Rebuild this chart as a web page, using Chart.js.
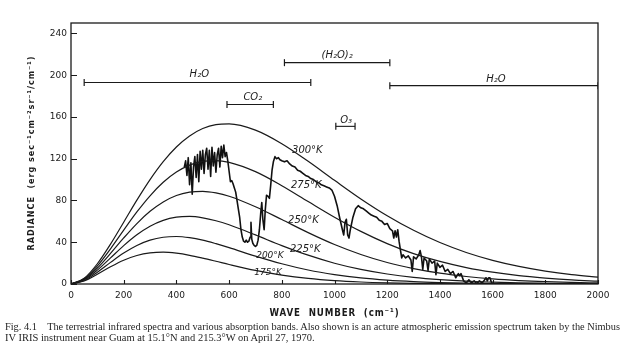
<!DOCTYPE html>
<html>
<head>
<meta charset="utf-8">
<script src="https://cdn.jsdelivr.net/npm/chart.js@4.4.1/dist/chart.umd.min.js"></script>
<style>
html,body{margin:0;padding:0;background:#fff;}
#wrap{position:relative;width:624px;height:360px;overflow:hidden;background:#fff;}
#c{position:absolute;left:0;top:0;}
.cap{position:absolute;left:5px;white-space:nowrap;font-family:"Liberation Serif","DejaVu Serif",serif;font-size:9.5px;line-height:10px;color:#1e1e1e;transform-origin:0 0;}
</style>
</head>
<body>
<div id="wrap">
<canvas id="c" width="624" height="360"></canvas>
<div class="cap" data-w="615" style="top:322px">Fig. 4.1&nbsp;&nbsp;&nbsp;&nbsp;The terrestrial infrared spectra and various absorption bands. Also shown is an acture atmospheric emission spectrum taken by the Nimbus</div>
<div class="cap" data-w="310" style="top:333px">IV IRIS instrument near Guam at 15.1°N and 215.3°W on April 27, 1970.</div>
</div>
<script>
// ---- data ----
const waveGrid = [0,50,100,150,200,250,300,350,400,450,500,550,600,700,800,900,1000,1100,1200,1300,1400,1500,1600,1700,1800,1900,2000];
const radiance300K = [0,5.5,19.4,38.2,59.2,80.3,100.0,117.2,131.2,141.8,148.9,152.7,153.4,147.4,134.4,117.5,99.3,81.5,65.4,51.4,39.7,30.2,22.7,16.9,12.4,9.0,6.5];
const radiance275K = [0,5.0,17.3,33.7,51.6,69.0,84.5,97.4,107.2,113.9,117.4,118.2,116.5,107.6,94.2,79.0,64.0,50.4,38.7,29.1,21.6,15.7,11.3,8.0,5.7,3.9,2.7];
const radiance250K = [0,4.5,15.3,29.3,44.1,57.9,69.6,78.6,84.8,88.0,88.8,87.3,84.1,74.0,61.7,49.2,37.8,28.3,20.6,14.8,10.4,7.2,4.9,3.3,2.2,1.5,1.0];
const radiance225K = [0,4.0,13.3,25.0,36.8,47.2,55.4,61.0,64.0,64.7,63.4,60.6,56.7,47.0,36.8,27.6,19.9,14.0,9.6,6.4,4.2,2.7,1.8,1.1,0.7,0.4,0.3];
const radiance200K = [0,3.4,11.3,20.7,29.6,36.9,42.0,44.8,45.5,44.4,42.0,38.6,34.8,26.7,19.4,13.4,9.0,5.8,3.7,2.3,1.4,0.8,0.5,0.3,0.2,0.1,0.05];
const radiance175K = [0,2.9,9.3,16.5,22.8,27.3,29.8,30.5,29.5,27.5,24.8,21.8,18.7,13.0,8.5,5.3,3.2,1.9,1.1,0.6,0.3,0.2,0.1,0.05,0.03,0.02,0.01];
const temperatures = [300,275,250,225,200,175];

const spectrumWave = [430,435,440,445,450,455,460,465,470,475,480,485,490,495,500,505,510,515,520,525,530,535,540,545,550,555,560,565,570,575,580,585,590,595,600,605,610,615,620,625,630,635,640,645,650,655,660,665,670,675,680,683,686,690,695,700,705,710,715,720,724,728,733,737,742,748,753,758,763,768,774,780,787,793,800,810,820,830,840,850,860,870,880,890,900,910,920,930,940,950,960,970,980,990,1000,1010,1020,1030,1035,1040,1045,1050,1055,1060,1070,1080,1090,1100,1110,1120,1130,1140,1150,1160,1170,1180,1190,1200,1210,1220,1225,1230,1235,1240,1245,1250,1255,1260,1270,1280,1290,1295,1300,1310,1320,1325,1330,1335,1340,1350,1355,1360,1370,1380,1385,1390,1400,1410,1420,1430,1440,1450,1460,1470,1475,1480,1490,1500,1510,1520,1530,1540,1550,1560,1570,1575,1580,1585,1590,1595,1600];
const spectrumRadiance = [112,118,104,121,95,116,86,112,122,102,124,98,127,110,128,106,124,130,110,128,103,131,113,126,107,124,130,112,132,121,133,122,126,118,108,98,99,96,92,88,80,72,64,52,45,41,40,42,40,41,45,59,43,39,37,36,37,42,52,68,78,62,52,70,85,84,82,95,109,117,122,120,121,119,118,117,118,115,113,112,109,108,106,104,103,101,100,98,97,95,94,93,92,90,84,75,63,52,47,59,62,47,44,52,64,72,75,73,72,70,68,66,65,64,61,60,57,58,53,51,44,51,45,52,41,33,25,28,25,27,23,12,26,24,28,32,26,14,25,22,13,24,20,22,9,20,16,18,12,14,10,12,6,10,8,10,3,1,4,1,3,0.5,3,1,4,6,3,6,6,2,0];

const bandNames = ['H₂O','(H₂O)₂','H₂O','CO₂','O₃'];
const bandStart = [50,810,1210,592,1005];
const bandEnd   = [910,1210,2000,768,1078];
const bandLevel = [193,212,190,172,151];

const xTickValues = [0,200,400,600,800,1000,1200,1400,1600,1800,2000];
const yTickValues = [0,40,80,120,160,200,240];

// ---- annotation layout (data coordinates) ----
const bandLabelAt = [[487,201],[1010,219],[1613,196],[690,179],[1044,157]];
const curveLabelAt = [[897,128],[893,94],[882,61],[889,33],[755,27],[748,11]];
const curveLabelFont = ['italic 10px "DejaVu Sans"','italic 10px "DejaVu Sans"','italic 10px "DejaVu Sans"','italic 10px "DejaVu Sans"','italic 9px "DejaVu Sans"','italic 9px "DejaVu Sans"'];

const INK = '#1a1a1a';
const planckSeries = [radiance300K,radiance275K,radiance250K,radiance225K,radiance200K,radiance175K];

const datasets = [];
planckSeries.forEach((arr,k)=>{
  datasets.push({
    label: temperatures[k]+'°K',
    data: waveGrid.map((x,i)=>({x:x,y:arr[i]})),
    borderColor: INK, borderWidth: 1.2, pointRadius: 0,
    cubicInterpolationMode: 'monotone', fill: false
  });
});
datasets.push({
  label: 'spectrum',
  data: spectrumWave.map((x,i)=>({x:x,y:spectrumRadiance[i]})),
  borderColor: '#111', borderWidth: 1.6, pointRadius: 0, tension: 0,
  borderJoinStyle: 'round', fill: false
});
bandNames.forEach((n,k)=>{
  datasets.push({
    label: n,
    data: [{x:bandStart[k],y:bandLevel[k]},{x:bandEnd[k],y:bandLevel[k]}],
    borderColor: INK, borderWidth: 1.1,
    pointStyle: 'line', pointRotation: 90, pointRadius: 3.5,
    pointBorderColor: INK, pointBorderWidth: 1.2, pointBackgroundColor: INK
  });
});

function fitText(ctx, text, cx, cy, target, font, spacing, rotate){
  ctx.save();
  ctx.font = font;
  ctx.letterSpacing = spacing;
  const w = ctx.measureText(text).width;
  ctx.translate(cx, cy);
  if (rotate) ctx.rotate(-Math.PI/2);
  ctx.scale(target / w, 1);
  ctx.textAlign = 'center';
  ctx.textBaseline = 'middle';
  ctx.fillStyle = INK;
  ctx.fillText(text, 0, 0);
  ctx.restore();
}

const decor = {
  id: 'decor',
  afterDatasetsDraw(chart){
    const ctx = chart.ctx, xs = chart.scales.x, ys = chart.scales.y, a = chart.chartArea;
    ctx.save();
    ctx.strokeStyle = INK; ctx.lineWidth = 1.3;
    ctx.strokeRect(a.left, a.top, a.right - a.left, a.bottom - a.top);
    ctx.lineWidth = 1.1;
    ctx.beginPath();
    xTickValues.forEach(v=>{ const p = Math.round(xs.getPixelForValue(v))+0.5; ctx.moveTo(p, a.bottom); ctx.lineTo(p, a.bottom-4); });
    yTickValues.forEach(v=>{ const p = Math.round(ys.getPixelForValue(v))+0.5; ctx.moveTo(a.left, p); ctx.lineTo(a.left+6, p); });
    ctx.stroke();
    ctx.fillStyle = INK; ctx.textAlign = 'center'; ctx.textBaseline = 'middle';
    ctx.font = 'italic 10px "DejaVu Sans"';
    bandNames.forEach((n,k)=>{
      ctx.fillText(n, xs.getPixelForValue(bandLabelAt[k][0]), ys.getPixelForValue(bandLabelAt[k][1]));
    });
    temperatures.forEach((t,k)=>{
      ctx.font = curveLabelFont[k];
      ctx.fillText(t+'°K', xs.getPixelForValue(curveLabelAt[k][0]), ys.getPixelForValue(curveLabelAt[k][1]));
    });
    ctx.restore();
    fitText(ctx, 'WAVE  NUMBER  (cm⁻¹)', (a.left+a.right)/2, 313, 130, 'bold 10px "DejaVu Sans"', '1px', false);
    fitText(ctx, 'RADIANCE  (erg sec⁻¹cm⁻²sr⁻¹/cm⁻¹)', 32, 153, 195, 'bold 8.5px "DejaVu Sans"', '1px', true);
  }
};

new Chart(document.getElementById('c'), {
  type: 'line',
  data: { datasets: datasets },
  options: {
    responsive: false, animation: false, devicePixelRatio: 1,
    layout: { padding: { left: 0, right: 26, top: 23, bottom: 46 } },
    plugins: { legend: { display: false }, tooltip: { enabled: false } },
    scales: {
      x: {
        type: 'linear', min: 0, max: 2000,
        afterBuildTicks: s => { s.ticks = xTickValues.map(v=>({value:v})); },
        afterFit: s => { s.height = 30; },
        grid: { display: false, drawTicks: false },
        border: { display: false },
        ticks: { padding: 6, maxRotation: 0, autoSkip: false, color: INK, font: { family: 'DejaVu Sans', size: 9 }, callback: v => String(v) }
      },
      y: {
        type: 'linear', min: 0, max: 250,
        afterBuildTicks: s => { s.ticks = yTickValues.map(v=>({value:v})); },
        afterFit: s => { s.width = 71; },
        grid: { display: false, drawTicks: false },
        border: { display: false },
        ticks: { padding: 4, autoSkip: false, color: INK, font: { family: 'DejaVu Sans', size: 9 }, callback: v => String(v) }
      }
    }
  },
  plugins: [decor]
});

document.querySelectorAll('.cap').forEach(el=>{
  const w = el.scrollWidth, target = +el.dataset.w;
  el.style.transform = 'scale(' + (target / w) + ',1)';
});
</script>
</body>
</html>
